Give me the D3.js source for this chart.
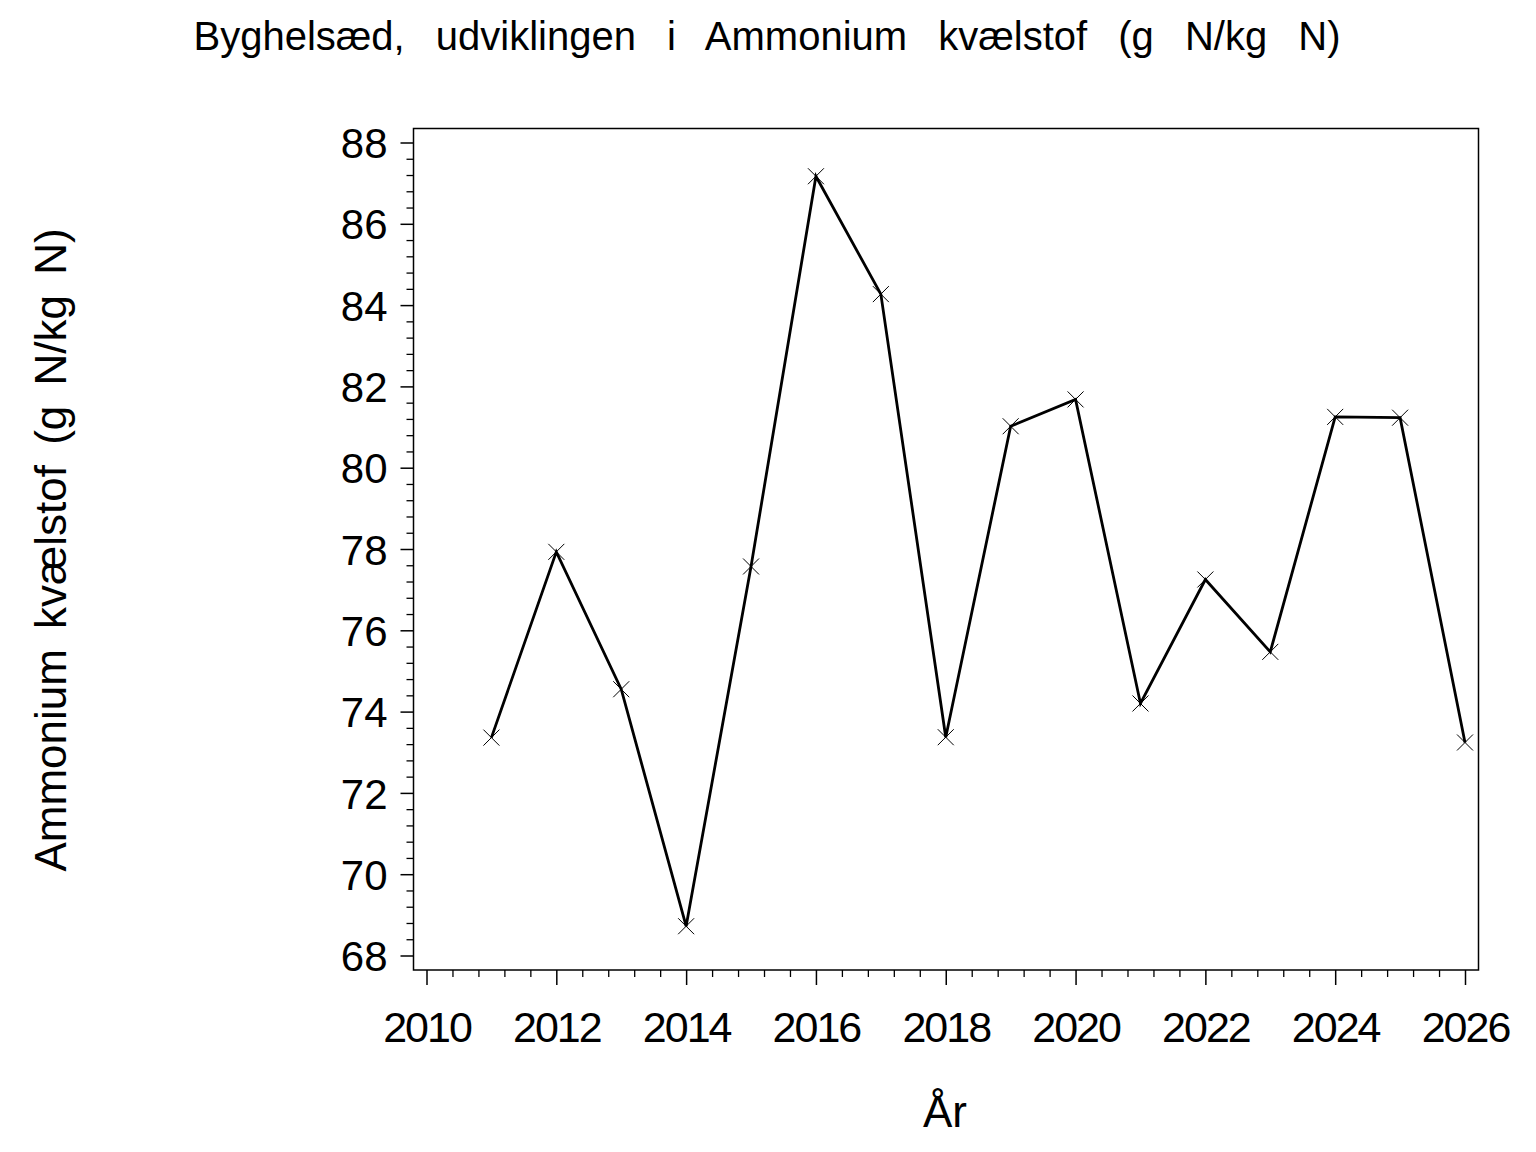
<!DOCTYPE html>
<html>
<head>
<meta charset="utf-8">
<script src="https://cdn.jsdelivr.net/npm/d3@7"></script>
<style>
  html, body { margin: 0; padding: 0; background: #fff; }
  svg { display: block; }
  text { font-family: "Liberation Sans", Arial, sans-serif; fill: #000; }
</style>
</head>
<body>
<script>
const years = [2011, 2012, 2013, 2014, 2015, 2016, 2017, 2018, 2019, 2020, 2021, 2022, 2023, 2024, 2025, 2026];
const values = [73.36, 77.93, 74.55, 68.72, 77.57, 87.17, 84.27, 73.37, 81.02, 81.68, 74.20, 77.25, 75.47, 81.25, 81.23, 73.24];
const yTicks = [68, 70, 72, 74, 76, 78, 80, 82, 84, 86, 88];
const xTicks = [2010, 2012, 2014, 2016, 2018, 2020, 2022, 2024, 2026];
const titleText = "Byghelsæd, udviklingen i Ammonium kvælstof (g N/kg N)";
const yTitleText = "Ammonium kvælstof (g N/kg N)";
const xTitleText = "År";

const W = 1536, H = 1152;
const frame = { left: 413.5, top: 128.5, right: 1478.5, bottom: 970 };

const svg = d3.select("body").append("svg").attr("width", W).attr("height", H);

const x = d3.scaleLinear().domain([2010, 2026]).range([426.5, 1465]);
const y = d3.scaleLinear().domain([68, 88]).range([955.5, 142.5]);

// frame
svg.append("rect")
  .attr("x", frame.left).attr("y", frame.top)
  .attr("width", frame.right - frame.left).attr("height", frame.bottom - frame.top)
  .attr("fill", "none").attr("stroke", "#000").attr("stroke-width", 1.5);

// y minor ticks
const yMinor = d3.range(68, 88.001, 0.4).filter(v => Math.abs(v / 2 - Math.round(v / 2)) > 0.01);
const yAxisMinor = svg.append("g").attr("transform", `translate(${frame.left},0)`)
  .call(d3.axisLeft(y).tickValues(yMinor).tickSize(7).tickSizeOuter(0).tickFormat(""));
yAxisMinor.select(".domain").remove();
yAxisMinor.selectAll("line").attr("stroke-width", 1.3);

// y major ticks
const yAxis = svg.append("g").attr("transform", `translate(${frame.left},0)`)
  .call(d3.axisLeft(y).tickValues(yTicks).tickSize(13).tickSizeOuter(0).tickPadding(13).tickFormat(d3.format("d")));
yAxis.select(".domain").remove();
yAxis.selectAll("line").attr("stroke-width", 1.5);
yAxis.selectAll("text").attr("font-size", 42).attr("font-family", "Liberation Sans, Arial, sans-serif").attr("fill", "#000").attr("dy", "0.36em");

// x minor ticks
const xMinor = d3.range(2010, 2026.001, 0.4).filter(v => Math.abs(v / 2 - Math.round(v / 2)) > 0.01);
const xAxisMinor = svg.append("g").attr("transform", `translate(0,${frame.bottom})`)
  .call(d3.axisBottom(x).tickValues(xMinor).tickSize(7).tickSizeOuter(0).tickFormat(""));
xAxisMinor.select(".domain").remove();
xAxisMinor.selectAll("line").attr("stroke-width", 1.3);

// x major ticks
const xAxis = svg.append("g").attr("transform", `translate(0,${frame.bottom})`)
  .call(d3.axisBottom(x).tickValues(xTicks).tickSize(15).tickSizeOuter(0).tickPadding(0).tickFormat(d3.format("d")));
xAxis.select(".domain").remove();
xAxis.selectAll("line").attr("stroke-width", 1.5);
xAxis.selectAll("text").attr("font-size", 43).attr("font-family", "Liberation Sans, Arial, sans-serif")
  .attr("fill", "#000").attr("dy", null).attr("y", 72).attr("letter-spacing", -2);

// line
const pts = years.map((yr, i) => [yr, values[i]]);
svg.append("path")
  .datum(pts)
  .attr("fill", "none").attr("stroke", "#000").attr("stroke-width", 2.8).attr("stroke-linejoin", "miter")
  .attr("d", d3.line().x(d => x(d[0])).y(d => y(d[1])));

// markers
const s = 8;
svg.append("g").selectAll("path").data(pts).join("path")
  .attr("transform", d => `translate(${x(d[0])},${y(d[1])})`)
  .attr("d", `M${-s},${-s}L${s},${s}M${-s},${s}L${s},${-s}`)
  .attr("stroke", "#000").attr("stroke-width", 1).attr("fill", "none");

// title
svg.append("text")
  .attr("x", 767).attr("y", 50)
  .attr("text-anchor", "middle").attr("font-size", 40).attr("word-spacing", 20)
  .text(titleText);

// y title
svg.append("text")
  .attr("transform", `translate(66,550) rotate(-90)`)
  .attr("text-anchor", "middle").attr("font-size", 44).attr("word-spacing", 8)
  .text(yTitleText);

// x title
svg.append("text")
  .attr("x", 945).attr("y", 1127)
  .attr("text-anchor", "middle").attr("font-size", 44)
  .text(xTitleText);
</script>
</body>
</html>
